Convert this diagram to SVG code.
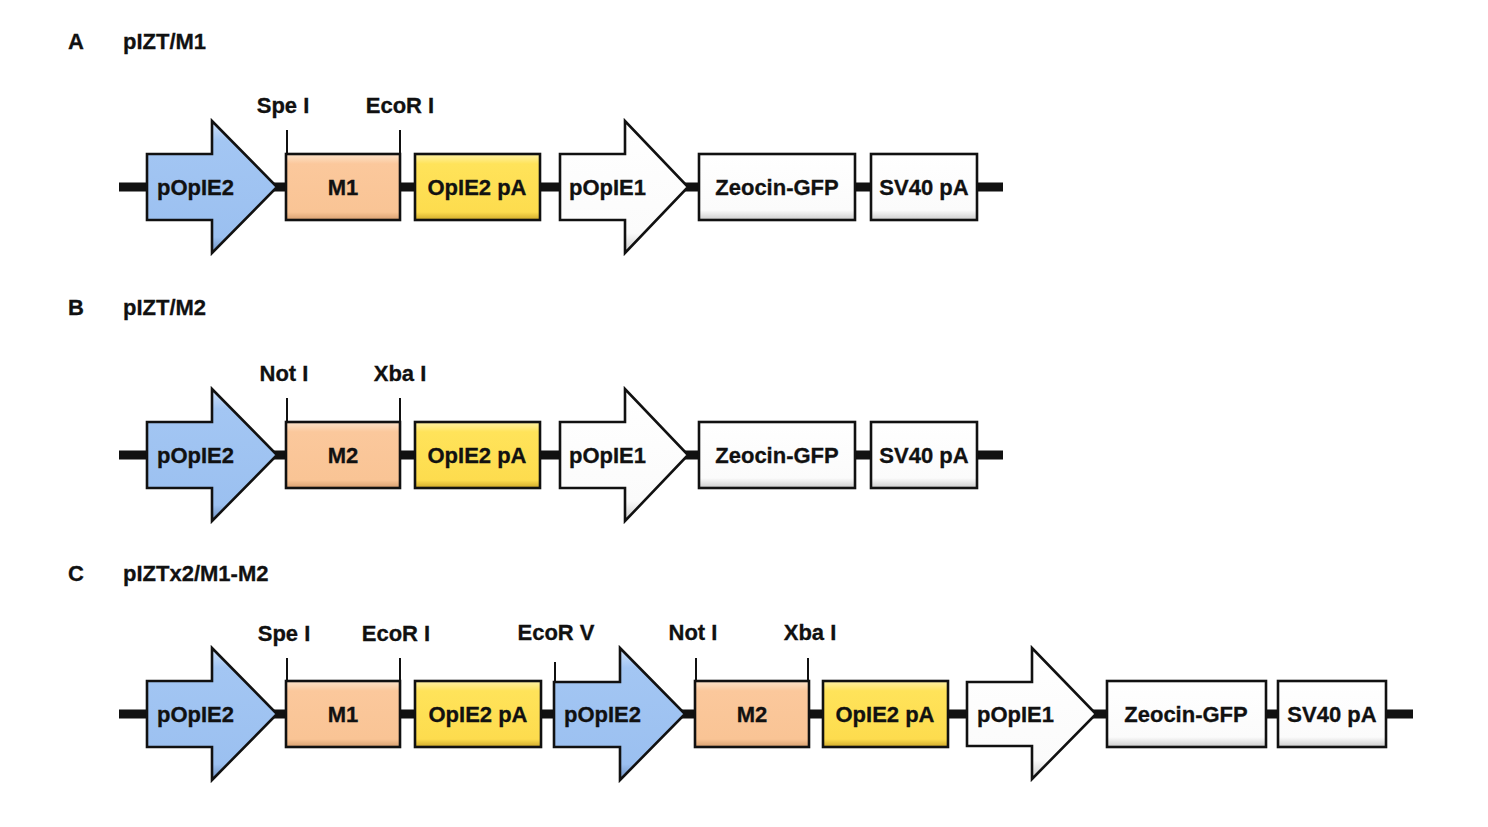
<svg xmlns="http://www.w3.org/2000/svg" width="1488" height="827" viewBox="0 0 1488 827">
<style>
text{font-family:"Liberation Sans",Arial,sans-serif;font-weight:bold;font-size:22px;fill:#111;stroke:#111;stroke-width:0.3}
.c{text-anchor:middle}
.bb{stroke:#111;stroke-width:9;fill:none}
.site{stroke:#111;stroke-width:2;fill:none}
.shape{stroke:#111;stroke-width:2.6;stroke-linejoin:miter}
.blue{fill:url(#gBlue)}
.peach{fill:url(#gPeach)}
.yellow{fill:url(#gYellow)}
.white{fill:url(#gWhite)}
</style>
<defs>
<linearGradient id="gBlue" x1="0" y1="0" x2="0" y2="1">
<stop offset="0" stop-color="#cfe2fb"/><stop offset="0.15" stop-color="#a3c6f3"/><stop offset="0.88" stop-color="#9bc0f0"/><stop offset="1" stop-color="#6f90c0"/>
</linearGradient>
<linearGradient id="gPeach" x1="0" y1="0" x2="0" y2="1">
<stop offset="0" stop-color="#fde3ca"/><stop offset="0.15" stop-color="#fbc89c"/><stop offset="0.88" stop-color="#f9c495"/><stop offset="1" stop-color="#d8a070"/>
</linearGradient>
<linearGradient id="gYellow" x1="0" y1="0" x2="0" y2="1">
<stop offset="0" stop-color="#fff2a6"/><stop offset="0.15" stop-color="#ffe35a"/><stop offset="0.88" stop-color="#fddc4e"/><stop offset="1" stop-color="#d0aa2a"/>
</linearGradient>
<linearGradient id="gWhite" x1="0" y1="0" x2="0" y2="1">
<stop offset="0" stop-color="#ffffff"/><stop offset="0.85" stop-color="#fbfbfb"/><stop offset="1" stop-color="#cccccc"/>
</linearGradient>
</defs>
<rect width="1488" height="827" fill="#fff"/>

<g id="titles">
<text x="68" y="49">A</text><text x="123" y="49">pIZT/M1</text>
<text x="68" y="315">B</text><text x="123" y="315">pIZT/M2</text>
<text x="68" y="581">C</text><text x="123" y="581">pIZTx2/M1-M2</text>
</g>

<g id="connectors">
<line class="bb" x1="119" y1="187" x2="1003" y2="187"/>
<line class="bb" x1="119" y1="455" x2="1003" y2="455"/>
<line class="bb" x1="119" y1="714" x2="1413" y2="714"/>
<path class="site" d="M287,153V130M400,153V130"/>
<path class="site" d="M287,421V398M400,421V398"/>
<path class="site" d="M287,681V658M400,681V658M555,682V662M696,680V658M808,680V658"/>
</g>

<g id="sites">
<text class="c" x="283" y="113">Spe I</text><text class="c" x="400" y="113">EcoR I</text>
<text class="c" x="284" y="381">Not I</text><text class="c" x="400" y="381">Xba I</text>
<text class="c" x="284" y="641">Spe I</text><text class="c" x="396" y="641">EcoR I</text>
<text class="c" x="556" y="640">EcoR V</text><text class="c" x="693" y="640">Not I</text><text class="c" x="810" y="640">Xba I</text>
</g>

<!-- Row A -->
<g id="A-pOpIE2"><path class="shape blue" d="M147,154H212V121L277,187L212,253V220H147Z"/><text x="157" y="195">pOpIE2</text></g>
<g id="A-M1"><rect class="shape peach" x="286" y="154" width="114" height="66"/><text class="c" x="343" y="195">M1</text></g>
<g id="A-OpIE2pA"><rect class="shape yellow" x="415" y="154" width="125" height="66"/><text class="c" x="477" y="195">OpIE2 pA</text></g>
<g id="A-pOpIE1"><path class="shape white" d="M560,154H625V121L688,187L625,253V220H560Z"/><text x="569" y="195">pOpIE1</text></g>
<g id="A-Zeocin"><rect class="shape white" x="699" y="154" width="156" height="66"/><text class="c" x="777" y="195">Zeocin-GFP</text></g>
<g id="A-SV40"><rect class="shape white" x="871" y="154" width="106" height="66"/><text class="c" x="924" y="195">SV40 pA</text></g>

<!-- Row B -->
<g id="B-pOpIE2"><path class="shape blue" d="M147,422H212V389L277,455L212,521V488H147Z"/><text x="157" y="463">pOpIE2</text></g>
<g id="B-M2"><rect class="shape peach" x="286" y="422" width="114" height="66"/><text class="c" x="343" y="463">M2</text></g>
<g id="B-OpIE2pA"><rect class="shape yellow" x="415" y="422" width="125" height="66"/><text class="c" x="477" y="463">OpIE2 pA</text></g>
<g id="B-pOpIE1"><path class="shape white" d="M560,422H625V389L688,455L625,521V488H560Z"/><text x="569" y="463">pOpIE1</text></g>
<g id="B-Zeocin"><rect class="shape white" x="699" y="422" width="156" height="66"/><text class="c" x="777" y="463">Zeocin-GFP</text></g>
<g id="B-SV40"><rect class="shape white" x="871" y="422" width="106" height="66"/><text class="c" x="924" y="463">SV40 pA</text></g>

<!-- Row C -->
<g id="C-pOpIE2a"><path class="shape blue" d="M147,681H212V648L277,714L212,780V747H147Z"/><text x="157" y="722">pOpIE2</text></g>
<g id="C-M1"><rect class="shape peach" x="286" y="681" width="114" height="66"/><text class="c" x="343" y="722">M1</text></g>
<g id="C-OpIE2pAa"><rect class="shape yellow" x="415" y="681" width="126" height="66"/><text class="c" x="478" y="722">OpIE2 pA</text></g>
<g id="C-pOpIE2b"><path class="shape blue" d="M554,682H620V648L685,714L620,780V747H554Z"/><text x="564" y="722">pOpIE2</text></g>
<g id="C-M2"><rect class="shape peach" x="695" y="681" width="114" height="66"/><text class="c" x="752" y="722">M2</text></g>
<g id="C-OpIE2pAb"><rect class="shape yellow" x="823" y="681" width="125" height="66"/><text class="c" x="885" y="722">OpIE2 pA</text></g>
<g id="C-pOpIE1"><path class="shape white" d="M967,682H1032V648L1096,714L1032,779V746H967Z"/><text x="977" y="722">pOpIE1</text></g>
<g id="C-Zeocin"><rect class="shape white" x="1107" y="681" width="159" height="66"/><text class="c" x="1186" y="722">Zeocin-GFP</text></g>
<g id="C-SV40"><rect class="shape white" x="1278" y="681" width="108" height="66"/><text class="c" x="1332" y="722">SV40 pA</text></g>
</svg>
